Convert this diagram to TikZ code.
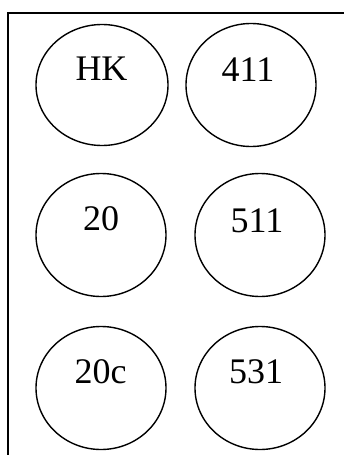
\documentclass[tikz,border=0pt]{standalone}
\usepackage{fontspec}
\setmainfont{Liberation Serif}
\usetikzlibrary{shapes.geometric}
\begin{document}
\begin{tikzpicture}[x=1pt,y=-1pt,
  oval/.style={draw=black,line width=1.4pt,ellipse,inner sep=0pt,minimum width=130pt,minimum height=123pt},
  lbl/.style={anchor=base,inner sep=0pt,font=\fontsize{36}{38}\selectfont},
  frameline/.style={draw=black,line width=1.6pt}]
\useasboundingbox (0,0) rectangle (344,455);
\fill[white] (0,0) rectangle (344,455);
\draw[frameline] (8,455) -- (8,13) -- (344,13);
\node[oval,minimum width=132pt,minimum height=121pt] (e1) at (102,85) {};
\node[oval] (e2) at (251,85) {};
\node[oval] (e3) at (101,235) {};
\node[oval] (e4) at (260,235) {};
\node[oval] (e5) at (101,388) {};
\node[oval] (e6) at (260,388) {};
\node[lbl] (t1) at (101.5,80) {HK};
\node[lbl] (t2) at (248,81) {411};
\node[lbl] (t3) at (101,230) {20};
\node[lbl] (t4) at (257,232) {511};
\node[lbl] (t5) at (100.5,383) {20c};
\node[lbl] (t6) at (256,383) {531};
\end{tikzpicture}
\end{document}
